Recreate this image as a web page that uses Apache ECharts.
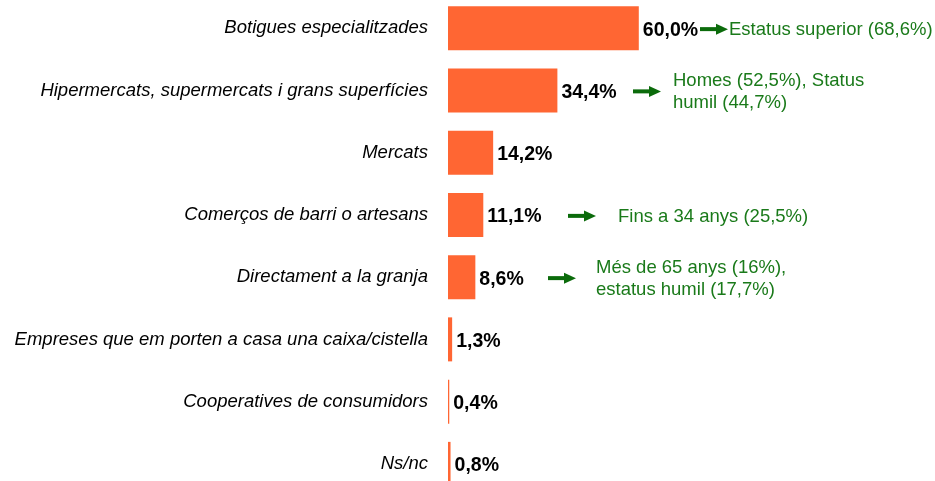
<!DOCTYPE html>
<html>
<head>
<meta charset="utf-8">
<script src="https://cdn.jsdelivr.net/npm/echarts@6/dist/echarts.min.js"></script>
<style>
  html, body { margin: 0; padding: 0; background: #fff; }
  #chart { width: 935px; height: 481px; }
</style>
</head>
<body>
<div id="chart"></div>
<script>
// dades
const categories = [
  "Botigues especialitzades",
  "Hipermercats, supermercats i grans superfícies",
  "Mercats",
  "Comerços de barri o artesans",
  "Directament a la granja",
  "Empreses que em porten a casa una caixa/cistella",
  "Cooperatives de consumidors",
  "Ns/nc",
];
const values = [60.0, 34.4, 14.2, 11.1, 8.6, 1.3, 0.4, 0.8];
// notes en verd (fila -> text)
const noteRows = [0, 1, 3, 4];
const noteTexts = [
  "Estatus superior (68,6%)",
  "Homes (52,5%), Status\nhumil (44,7%)",
  "Fins a 34 anys (25,5%)",
  "Més de 65 anys (16%),\nestatus humil (17,7%)",
];

const chart = echarts.init(document.getElementById("chart"));
const font = "'Liberation Sans', Arial, Helvetica, sans-serif";

let option = {
  backgroundColor: "#fff",
  animation: false,
  grid: {
    left: 448, width: 318, top: -3, height: 498,
    containLabel: false, outerBoundsMode: "none",
  },
  xAxis: {
    type: "value",
    min: 0,
    max: 100,
    show: false,
  },
  yAxis: {
    type: "category",
    inverse: true,
    data: categories,
    axisLine: { show: false },
    axisTick: { show: false },
    splitLine: { show: false },
    axisLabel: {
      margin: 20,
      color: "#000",
      fontFamily: font,
      fontStyle: "italic",
      fontSize: 18.5,
      padding: [4, 0, 0, 0],
    },
  },
  series: [
    {
      type: "bar",
      data: values,
      barWidth: 44,
      itemStyle: { color: "#FF6633" },
      label: {
        show: true,
        position: "right",
        distance: 4,
        offset: [0, 2],
        color: "#000",
        fontFamily: font,
        fontWeight: "bold",
        fontSize: 19.5,
        formatter: (p) => p.value.toFixed(1).replace(".", ",") + "%",
      },
    },
  ],
};
chart.setOption(option);

// fletxes i textos verds, alineats amb les files de l'eix
const arrowX = [700, 633, 568, 548];
const textX = [729, 673, 618, 596];
const graphics = [];
noteRows.forEach((row, i) => {
  const y = chart.convertToPixel({ yAxisIndex: 0 }, row) + 1;
  const x0 = arrowX[i];
  graphics.push({
    type: "rect",
    shape: { x: x0, y: y - 2, width: 17, height: 4 },
    style: { fill: "#0b6b0b" },
  });
  graphics.push({
    type: "polygon",
    shape: { points: [[x0 + 16, y - 5.5], [x0 + 28, y], [x0 + 16, y + 5.5]] },
    style: { fill: "#0b6b0b" },
  });
  graphics.push({
    type: "text",
    x: textX[i],
    y: y + 1,
    style: {
      text: noteTexts[i],
      fill: "#1a7a1a",
      font: "18.5px " + font,
      lineHeight: 22,
      verticalAlign: "middle",
      align: "left",
    },
  });
});
chart.setOption({ graphic: graphics });
</script>
</body>
</html>
